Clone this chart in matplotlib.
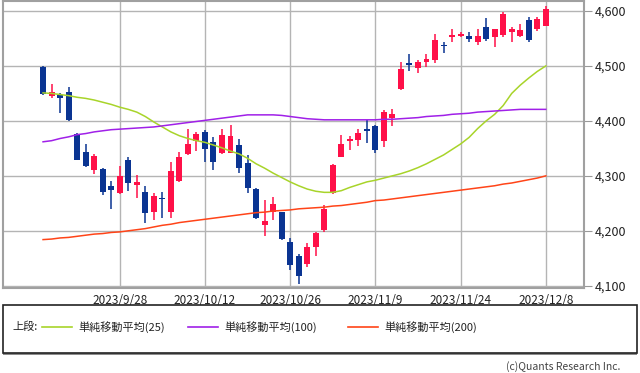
import matplotlib
matplotlib.use("Agg")
import matplotlib.pyplot as plt
from matplotlib.lines import Line2D
from matplotlib.patches import Rectangle
from matplotlib.ticker import FuncFormatter

plt.rcParams['font.family'] = ['Noto Sans CJK JP', 'DejaVu Sans']

# OHLC per trading day (60 bars, last = 2023/12/8)
opens = [4499, 4445, 4447, 4453, 4376, 4343, 4310, 4313, 4282, 4268,
         4328, 4284, 4270, 4235, 4260, 4235, 4290, 4339, 4364, 4380,
         4361, 4341, 4342, 4356, 4323, 4276, 4210, 4235, 4234, 4179,
         4155, 4140, 4171, 4201, 4268, 4334, 4364, 4365, 4385, 4391,
         4364, 4405, 4458, 4505, 4496, 4508, 4510, 4539, 4552, 4555,
         4555, 4544, 4571, 4553, 4556, 4562, 4555, 4584, 4567, 4573]
highs = [4500, 4467, 4450, 4461, 4378, 4358, 4340, 4314, 4291, 4318,
         4334, 4301, 4281, 4268, 4271, 4326, 4344, 4385, 4379, 4384,
         4370, 4385, 4393, 4367, 4338, 4277, 4256, 4261, 4235, 4187,
         4158, 4178, 4197, 4247, 4321, 4375, 4373, 4385, 4402, 4393,
         4419, 4422, 4508, 4522, 4511, 4522, 4558, 4544, 4567, 4561,
         4561, 4567, 4587, 4568, 4599, 4571, 4576, 4590, 4590, 4609]
lows = [4447, 4441, 4415, 4400, 4328, 4316, 4303, 4265, 4239, 4267,
        4273, 4260, 4215, 4220, 4223, 4223, 4288, 4338, 4346, 4325,
        4311, 4340, 4344, 4305, 4268, 4222, 4190, 4219, 4183, 4129,
        4104, 4135, 4155, 4197, 4267, 4334, 4347, 4355, 4359, 4341,
        4353, 4391, 4457, 4491, 4487, 4499, 4505, 4523, 4544, 4552,
        4543, 4538, 4546, 4534, 4553, 4544, 4553, 4544, 4564, 4573]
closes = [4449, 4453, 4442, 4401, 4329, 4318, 4337, 4271, 4275, 4300,
          4287, 4289, 4232, 4264, 4257, 4309, 4335, 4358, 4376, 4349,
          4326, 4375, 4373, 4314, 4278, 4223, 4217, 4249, 4185, 4137,
          4118, 4170, 4196, 4240, 4319, 4358, 4367, 4378, 4382, 4347,
          4417, 4412, 4494, 4501, 4507, 4513, 4547, 4537, 4557, 4559,
          4549, 4555, 4549, 4567, 4595, 4568, 4565, 4547, 4585, 4603]

ma25 = [4451, 4450, 4448, 4446, 4443, 4441, 4438, 4434, 4430, 4425,
        4421, 4416, 4408, 4398, 4389, 4380, 4373, 4368, 4364, 4361,
        4356, 4351, 4345, 4340, 4332, 4322, 4314, 4305, 4297, 4289,
        4282, 4276, 4272, 4270, 4270, 4273, 4279, 4284, 4289, 4292,
        4296, 4300, 4304, 4309, 4315, 4322, 4330, 4338, 4348, 4358,
        4370, 4386, 4400, 4412, 4428, 4450, 4465, 4478, 4490, 4500]
ma100 = [4362, 4364, 4368, 4371, 4375, 4377, 4380, 4382, 4384, 4385,
         4386, 4387, 4388, 4389, 4391, 4393, 4395, 4397, 4399, 4401,
         4403, 4405, 4407, 4409, 4411, 4411, 4411, 4411, 4410, 4408,
         4406, 4404, 4403, 4402, 4402, 4402, 4402, 4402, 4402, 4402,
         4403, 4403, 4404, 4405, 4406, 4408, 4409, 4410, 4412, 4413,
         4414, 4416, 4417, 4418, 4419, 4420, 4421, 4421, 4421, 4421]
ma200 = [4184, 4185, 4187, 4188, 4190, 4192, 4194, 4195, 4197, 4198,
         4200, 4202, 4204, 4207, 4210, 4212, 4215, 4217, 4219, 4221,
         4223, 4225, 4227, 4229, 4231, 4233, 4234, 4236, 4237, 4238,
         4240, 4241, 4242, 4243, 4245, 4246, 4248, 4250, 4252, 4255,
         4256, 4258, 4260, 4262, 4264, 4266, 4268, 4270, 4272, 4274,
         4276, 4278, 4280, 4282, 4285, 4287, 4290, 4293, 4296, 4300]

tick_idx = [9, 19, 29, 39, 49, 59]
tick_labels = ['2023/9/28', '2023/10/12', '2023/10/26', '2023/11/9', '2023/11/24', '2023/12/8']
y_ticks = [4100, 4200, 4300, 4400, 4500, 4600]

ma_labels = ['単純移動平均(25)', '単純移動平均(100)', '単純移動平均(200)']
ma_colors = ['#a8d42a', '#a020e8', '#ff4418']

UP = '#ff1048'
DOWN = '#0a3492'

fig = plt.figure(figsize=(6.4, 3.73), dpi=100)
ax = fig.add_axes([0.0047, 0.228, 0.908, 0.769])

x = list(range(len(opens)))
cols = [UP if c >= o else DOWN for o, c in zip(opens, closes)]
ax.vlines(x, lows, highs, colors=cols, linewidth=1.1, zorder=3)
bottoms = [min(o, c) for o, c in zip(opens, closes)]
heights = [max(abs(c - o), 1.2) for o, c in zip(opens, closes)]
ax.bar(x, heights, bottom=bottoms, width=0.7, color=cols, zorder=3)

for vals, col in zip([ma25, ma100, ma200], ma_colors):
    ax.plot(x, vals, color=col, linewidth=1.1, zorder=4)

ax.set_xlim(-4.7, 63.5)
ax.set_ylim(4096, 4618)
ax.set_xticks(tick_idx)
ax.set_xticklabels(tick_labels, fontsize=8.5, color='#222222')
ax.set_yticks(y_ticks)
ax.yaxis.set_major_formatter(FuncFormatter(lambda v, p: f'{int(v):,}'))
ax.yaxis.tick_right()
ax.tick_params(axis='y', length=6, color='#999999', labelsize=9, labelcolor='#222222', pad=2)
ax.tick_params(axis='x', length=0, pad=4)
ax.grid(True, color='#b4b4b4', linewidth=1)
ax.set_axisbelow(True)
for s in ax.spines.values():
    s.set_color('#a0a0a0')
    s.set_linewidth(1.5)

# legend box with a soft shadow at the bottom
fig.add_artist(Rectangle((0.0047, 0.047), 0.9903, 0.01, transform=fig.transFigure,
                         facecolor='#8c8c8c', edgecolor='none'))
fig.add_artist(Rectangle((0.0047, 0.0536), 0.9903, 0.1287, transform=fig.transFigure,
                         facecolor='white', edgecolor='#222222', linewidth=1.2))
ly = 0.1233
fig.text(0.019, ly, '上段:', fontsize=8, va='center', color='#222222')
for lx, col, lab in zip([0.066, 0.294, 0.544], ma_colors, ma_labels):
    fig.add_artist(Line2D([lx, lx + 0.047], [ly, ly], color=col, linewidth=1.2,
                          transform=fig.transFigure))
    fig.text(lx + 0.056, ly, lab, fontsize=8, va='center', color='#222222')

fig.text(0.97, 0.018, '(c)Quants Research Inc.', fontsize=7.5, ha='right', va='center',
         color='#444444')

fig.savefig('out.png', dpi=100)
